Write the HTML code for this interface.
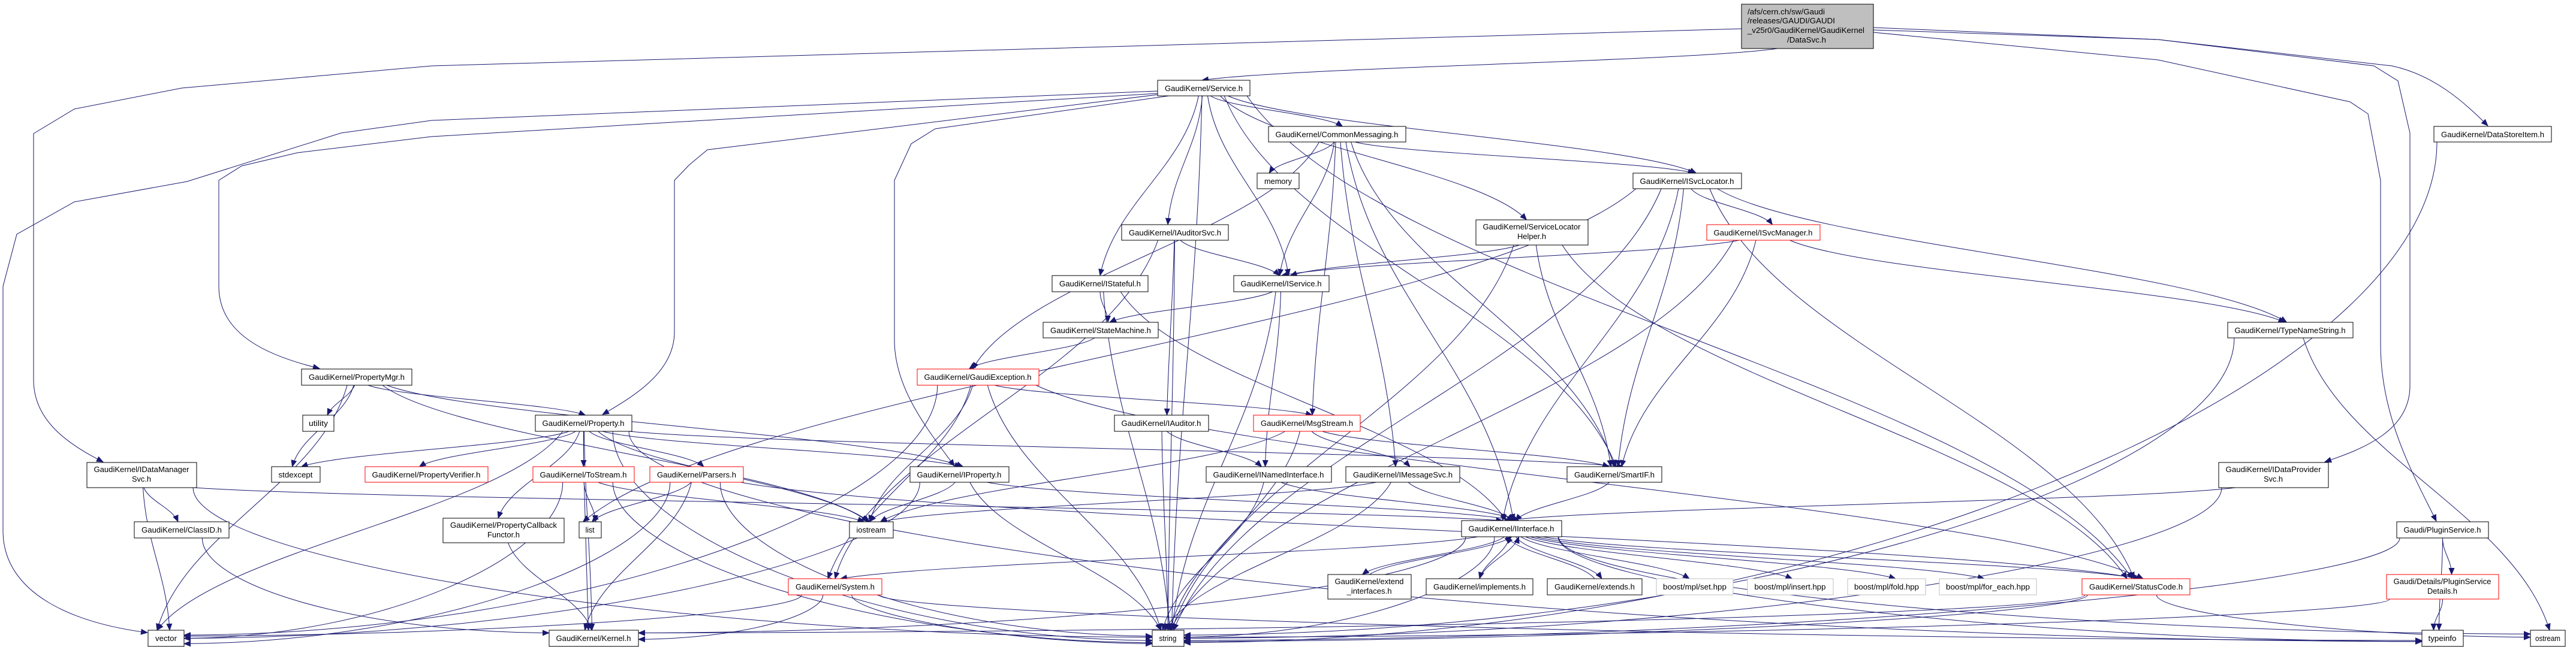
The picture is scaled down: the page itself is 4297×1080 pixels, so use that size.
<!DOCTYPE html>
<html><head><meta charset="utf-8"><style>
html,body{margin:0;padding:0;background:#fff;}
svg{display:block;}
text{font-family:"Liberation Sans",sans-serif;font-size:13px;fill:#000;}
.c{text-anchor:middle;}
rect{fill:#fff;stroke:#000;stroke-width:1;}
rect.r{stroke:#ff0000;}
rect.g{stroke:#bfbfbf;}
</style></head><body>
<svg width="4297" height="1080" viewBox="0 0 4297 1080" xmlns="http://www.w3.org/2000/svg">
<defs><marker id="a" markerUnits="userSpaceOnUse" markerWidth="12" markerHeight="10" refX="11" refY="5" orient="auto"><path d="M0,0 L12,5 L0,10 z" fill="#191970"/></marker></defs>
<g id="edges" fill="none" stroke="#191970" stroke-width="1">
<path marker-end="url(#a)" d="M2905,48 L720,110 L303,147 L124,182 L56,223 L56,634 C56,700 110,740 172,771"/>
<path marker-end="url(#a)" d="M1931,152 L720,201 L569,222 L312,303 L124,337 L28,391 L5,478 L5,886 C5,990 120,1040 246,1056"/>
<path marker-end="url(#a)" d="M1931,156 L720,228 L496,255 L403,277 L365,301 L365,478 C365,560 450,595 533,615"/>
<path marker-end="url(#a)" d="M1931,158 L1180,250 L1150,275 L1125,301 L1125,554 C1125,620 1060,660 1005,692"/>
<path marker-end="url(#a)" d="M1950,160 L1560,215 L1520,240 L1492,301 L1492,568 C1492,650 1550,720 1592,778"/>
<path marker-end="url(#a)" d="M3125,50 L3600,66 L3960,110 L4000,135 L4020,222 L4020,644 C4020,720 3940,750 3878,771"/>
<path marker-end="url(#a)" d="M3125,54 L3600,100 L3920,170 L3950,190 L3971,301 L3971,575 C3971,700 4030,800 4064,870"/>
<path marker-end="url(#a)" d="M3125,46 L3600,66 L3990,110 C4060,125 4110,170 4150,210"/>
</g>
<g id="nodes">
<rect x="2905" y="7" width="220" height="74" style="fill:#bfbfbf"/>
<text x="2915" y="24" textLength="129" lengthAdjust="spacingAndGlyphs">/afs/cern.ch/sw/Gaudi</text>
<text x="2915" y="39" textLength="146" lengthAdjust="spacingAndGlyphs">/releases/GAUDI/GAUDI</text>
<text x="2915" y="55" textLength="195" lengthAdjust="spacingAndGlyphs">_v25r0/GaudiKernel/GaudiKernel</text>
<text x="2981" y="71" textLength="65" lengthAdjust="spacingAndGlyphs">/DataSvc.h</text>

<rect x="1931" y="134" width="154" height="26"/><text class="c" x="2008" y="152" textLength="130" lengthAdjust="spacingAndGlyphs">GaudiKernel/Service.h</text>
<rect x="2116" y="211" width="229" height="26"/><text class="c" x="2230" y="229" textLength="205" lengthAdjust="spacingAndGlyphs">GaudiKernel/CommonMessaging.h</text>
<rect x="4060" y="211" width="196" height="26"/><text class="c" x="4158" y="229" textLength="172" lengthAdjust="spacingAndGlyphs">GaudiKernel/DataStoreItem.h</text>
<rect x="2097" y="289" width="70" height="26"/><text class="c" x="2132" y="307" textLength="46" lengthAdjust="spacingAndGlyphs">memory</text>
<rect x="2724" y="289" width="181" height="26"/><text class="c" x="2814" y="307" textLength="157" lengthAdjust="spacingAndGlyphs">GaudiKernel/ISvcLocator.h</text>
<rect x="2462" y="367" width="187" height="42"/><text class="c" x="2555" y="383" textLength="163" lengthAdjust="spacingAndGlyphs">GaudiKernel/ServiceLocator</text><text class="c" x="2555" y="399" textLength="48" lengthAdjust="spacingAndGlyphs">Helper.h</text>
<rect x="1871" y="375" width="178" height="26"/><text class="c" x="1960" y="393" textLength="154" lengthAdjust="spacingAndGlyphs">GaudiKernel/IAuditorSvc.h</text>
<rect class="r" x="2847" y="375" width="189" height="26"/><text class="c" x="2941" y="393" textLength="165" lengthAdjust="spacingAndGlyphs">GaudiKernel/ISvcManager.h</text>
<rect x="1755" y="460" width="160" height="27"/><text class="c" x="1835" y="478" textLength="136" lengthAdjust="spacingAndGlyphs">GaudiKernel/IStateful.h</text>
<rect x="2058" y="460" width="159" height="27"/><text class="c" x="2137" y="478" textLength="135" lengthAdjust="spacingAndGlyphs">GaudiKernel/IService.h</text>
<rect x="1740" y="538" width="192" height="26"/><text class="c" x="1836" y="556" textLength="168" lengthAdjust="spacingAndGlyphs">GaudiKernel/StateMachine.h</text>
<rect x="3716" y="538" width="209" height="26"/><text class="c" x="3820" y="556" textLength="185" lengthAdjust="spacingAndGlyphs">GaudiKernel/TypeNameString.h</text>
<rect x="503" y="616" width="184" height="27"/><text class="c" x="595" y="634" textLength="160" lengthAdjust="spacingAndGlyphs">GaudiKernel/PropertyMgr.h</text>
<rect class="r" x="1530" y="616" width="203" height="27"/><text class="c" x="1631" y="634" textLength="179" lengthAdjust="spacingAndGlyphs">GaudiKernel/GaudiException.h</text>
<rect x="505" y="693" width="52" height="27"/><text class="c" x="531" y="711" textLength="32" lengthAdjust="spacingAndGlyphs">utility</text>
<rect x="893" y="693" width="161" height="27"/><text class="c" x="973" y="711" textLength="137" lengthAdjust="spacingAndGlyphs">GaudiKernel/Property.h</text>
<rect x="1859" y="693" width="157" height="27"/><text class="c" x="1937" y="711" textLength="133" lengthAdjust="spacingAndGlyphs">GaudiKernel/IAuditor.h</text>
<rect class="r" x="2091" y="693" width="178" height="27"/><text class="c" x="2180" y="711" textLength="154" lengthAdjust="spacingAndGlyphs">GaudiKernel/MsgStream.h</text>
<rect x="145" y="772" width="183" height="42"/><text class="c" x="236" y="788" textLength="159" lengthAdjust="spacingAndGlyphs">GaudiKernel/IDataManager</text><text class="c" x="236" y="804" textLength="32" lengthAdjust="spacingAndGlyphs">Svc.h</text>
<rect x="453" y="779" width="81" height="26"/><text class="c" x="493" y="797" textLength="57" lengthAdjust="spacingAndGlyphs">stdexcept</text>
<rect class="r" x="609" y="779" width="205" height="26"/><text class="c" x="711" y="797" textLength="181" lengthAdjust="spacingAndGlyphs">GaudiKernel/PropertyVerifier.h</text>
<rect class="r" x="889" y="779" width="169" height="26"/><text class="c" x="973" y="797" textLength="145" lengthAdjust="spacingAndGlyphs">GaudiKernel/ToStream.h</text>
<rect class="r" x="1084" y="779" width="156" height="26"/><text class="c" x="1162" y="797" textLength="132" lengthAdjust="spacingAndGlyphs">GaudiKernel/Parsers.h</text>
<rect x="1518" y="779" width="165" height="26"/><text class="c" x="1600" y="797" textLength="141" lengthAdjust="spacingAndGlyphs">GaudiKernel/IProperty.h</text>
<rect x="2012" y="779" width="209" height="26"/><text class="c" x="2116" y="797" textLength="185" lengthAdjust="spacingAndGlyphs">GaudiKernel/INamedInterface.h</text>
<rect x="2245" y="779" width="190" height="26"/><text class="c" x="2340" y="797" textLength="166" lengthAdjust="spacingAndGlyphs">GaudiKernel/IMessageSvc.h</text>
<rect x="2614" y="779" width="158" height="26"/><text class="c" x="2693" y="797" textLength="134" lengthAdjust="spacingAndGlyphs">GaudiKernel/SmartIF.h</text>
<rect x="3701" y="772" width="183" height="42"/><text class="c" x="3792" y="788" textLength="159" lengthAdjust="spacingAndGlyphs">GaudiKernel/IDataProvider</text><text class="c" x="3792" y="804" textLength="32" lengthAdjust="spacingAndGlyphs">Svc.h</text>
<rect x="224" y="871" width="158" height="27"/><text class="c" x="303" y="889" textLength="134" lengthAdjust="spacingAndGlyphs">GaudiKernel/ClassID.h</text>
<rect x="739" y="865" width="202" height="41"/><text class="c" x="840" y="881" textLength="178" lengthAdjust="spacingAndGlyphs">GaudiKernel/PropertyCallback</text><text class="c" x="840" y="897" textLength="54" lengthAdjust="spacingAndGlyphs">Functor.h</text>
<rect x="966" y="871" width="37" height="27"/><text class="c" x="984" y="889" textLength="15" lengthAdjust="spacingAndGlyphs">list</text>
<rect x="1417" y="871" width="73" height="27"/><text class="c" x="1453" y="889" textLength="49" lengthAdjust="spacingAndGlyphs">iostream</text>
<rect x="2438" y="869" width="167" height="27"/><text class="c" x="2521" y="887" textLength="143" lengthAdjust="spacingAndGlyphs">GaudiKernel/IInterface.h</text>
<rect x="3998" y="871" width="153" height="27"/><text class="c" x="4074" y="889" textLength="129" lengthAdjust="spacingAndGlyphs">Gaudi/PluginService.h</text>
<rect x="2215" y="959" width="139" height="41"/><text class="c" x="2284" y="975" textLength="115" lengthAdjust="spacingAndGlyphs">GaudiKernel/extend</text><text class="c" x="2284" y="991" textLength="75" lengthAdjust="spacingAndGlyphs">_interfaces.h</text>
<rect class="r" x="3981" y="959" width="187" height="41"/><text class="c" x="4074" y="975" textLength="163" lengthAdjust="spacingAndGlyphs">Gaudi/Details/PluginService</text><text class="c" x="4074" y="991" textLength="50" lengthAdjust="spacingAndGlyphs">Details.h</text>
<rect class="r" x="1315" y="966" width="156" height="27"/><text class="c" x="1393" y="984" textLength="132" lengthAdjust="spacingAndGlyphs">GaudiKernel/System.h</text>
<rect x="2379" y="966" width="178" height="27"/><text class="c" x="2468" y="984" textLength="154" lengthAdjust="spacingAndGlyphs">GaudiKernel/implements.h</text>
<rect x="2581" y="966" width="158" height="27"/><text class="c" x="2660" y="984" textLength="134" lengthAdjust="spacingAndGlyphs">GaudiKernel/extends.h</text>
<rect class="g" x="2763" y="966" width="128" height="27"/><text class="c" x="2827" y="984" textLength="106" lengthAdjust="spacingAndGlyphs">boost/mpl/set.hpp</text>
<rect class="g" x="2915" y="966" width="143" height="27"/><text class="c" x="2986" y="984" textLength="119" lengthAdjust="spacingAndGlyphs">boost/mpl/insert.hpp</text>
<rect class="g" x="3082" y="966" width="130" height="27"/><text class="c" x="3147" y="984" textLength="108" lengthAdjust="spacingAndGlyphs">boost/mpl/fold.hpp</text>
<rect class="g" x="3235" y="966" width="162" height="27"/><text class="c" x="3316" y="984" textLength="140" lengthAdjust="spacingAndGlyphs">boost/mpl/for_each.hpp</text>
<rect class="r" x="3473" y="966" width="180" height="27"/><text class="c" x="3563" y="984" textLength="156" lengthAdjust="spacingAndGlyphs">GaudiKernel/StatusCode.h</text>
<rect x="247" y="1052" width="60" height="27"/><text class="c" x="277" y="1070" textLength="36" lengthAdjust="spacingAndGlyphs">vector</text>
<rect x="916" y="1052" width="149" height="27"/><text class="c" x="990" y="1070" textLength="125" lengthAdjust="spacingAndGlyphs">GaudiKernel/Kernel.h</text>
<rect x="1922" y="1052" width="53" height="27"/><text class="c" x="1948" y="1070" textLength="29" lengthAdjust="spacingAndGlyphs">string</text>
<rect x="4040" y="1052" width="69" height="27"/><text class="c" x="4074" y="1070" textLength="47" lengthAdjust="spacingAndGlyphs">typeinfo</text>
<rect x="4221" y="1052" width="58" height="27"/><text class="c" x="4250" y="1070" textLength="42" lengthAdjust="spacingAndGlyphs">ostream</text>
</g>
</svg>
<script>
var N={
root:[2905,3125,7,81],Service:[1931,2085,134,160],CM:[2116,2345,211,237],DSI:[4060,4256,211,237],
memory:[2097,2167,289,315],ISL:[2724,2905,289,315],SLH:[2462,2649,367,409],IAS:[1871,2049,375,401],
ISM:[2847,3036,375,401],IStateful:[1755,1915,460,487],IService:[2058,2217,460,487],SM:[1740,1932,538,564],
TNS:[3716,3925,538,564],PMgr:[503,687,616,643],GE:[1530,1733,616,643],utility:[505,557,693,720],
Prop:[893,1054,693,720],IAud:[1859,2016,693,720],MS:[2091,2269,693,720],IDM:[145,328,772,814],
stdexcept:[453,534,779,805],PV:[609,814,779,805],TS:[889,1058,779,805],Pars:[1084,1240,779,805],
IProp:[1518,1683,779,805],INI:[2012,2221,779,805],IMS:[2245,2435,779,805],SIF:[2614,2772,779,805],
IDP:[3701,3884,772,814],CID:[224,382,871,898],PCF:[739,941,865,906],list:[966,1003,871,898],
iostream:[1417,1490,871,898],II:[2438,2605,869,896],PS:[3998,4151,871,898],EI:[2215,2354,959,1000],
PSD:[3981,4168,959,1000],Sys:[1315,1471,966,993],impl:[2379,2557,966,993],ext:[2581,2739,966,993],
set:[2763,2891,966,993],ins:[2915,3058,966,993],fold:[3082,3212,966,993],fe:[3235,3397,966,993],
SC:[3473,3653,966,993],vector:[247,307,1052,1079],Kernel:[916,1065,1052,1079],string:[1922,1975,1052,1079],
typeinfo:[4040,4109,1052,1079],ostream:[4221,4279,1052,1079]};
var E=[
"root Service",
"Service CM","Service IAS","Service IStateful","Service IService","Service SLH","Service SIF","Service ISL","Service SC","Service string",
"CM memory","CM IService","CM MS","CM IMS","CM SIF","CM ISL","CM GE","CM II",
"ISL ISM","ISL TNS","ISL SIF","ISL II","ISL SC","ISL string","ISL list",
"ISM IService","ISM SIF","ISM TNS","ISM string",
"SLH IService","SLH SIF","SLH string","SLH SC",
"IAS IService","IAS IAud","IAS Sys","IAS string",
"IStateful SM","IStateful II","IStateful string",
"IService SM","IService INI","IService string",
"SM GE",
"GE iostream","GE MS","GE string","GE Sys","GE SC","GE vector",
"PMgr Prop","PMgr utility","PMgr stdexcept","PMgr IProp","PMgr vector","PMgr iostream",
"Prop stdexcept","Prop PV","Prop TS","Prop Pars","Prop PCF","Prop IProp","Prop SIF","Prop iostream","Prop string","Prop vector","Prop Kernel","Prop typeinfo",
"IAud INI","IAud string","MS IMS","MS SIF","MS string","MS iostream",
"IDM CID","IDM vector","IDM II","IDM string",
"TS list","TS iostream","TS vector","TS string","TS Kernel",
"Pars list","Pars vector","Pars string","Pars SC","Pars Kernel",
"IProp iostream","IProp II","IProp string","IProp vector",
"INI II","INI string","IMS II","IMS iostream","IMS string","SIF II",
"CID Kernel","PCF Kernel",
"II Sys","II EI","II impl","II ext","II set","II ins","II fold","II fe","II SC","II Kernel","II string","II typeinfo","II ostream",
"EI II","impl II","ext II",
"Sys Kernel","Sys string","Sys vector","Sys typeinfo",
"SC Kernel","SC ostream","SC string",
"IDP II","IDP string","DSI string","TNS string","TNS ostream",
"PS PSD","PS typeinfo","PS string","PSD typeinfo","PSD string"];
var bottom={vector:1,Kernel:1,string:1,typeinfo:1,ostream:1};
var g=document.getElementById("edges"),ns="http://www.w3.org/2000/svg",k=0;
E.forEach(function(e){var p=e.split(" "),s=N[p[0]],t=N[p[1]];k++;
var sx=(s[0]+s[1])/2,tx=(t[0]+t[1])/2,sy,ty,d;
var off=((k*37)%11-5)*3;
if(t[2]>s[3]){sy=s[3];ty=t[2];
  sx+=Math.max(-(s[1]-s[0])/2+5,Math.min((s[1]-s[0])/2-5,(tx-sx)*0.05));
  var dy=ty-sy,dx=tx-sx;
  if(bottom[p[1]]&&Math.abs(dx)>2.5*dy){
    var right=dx>0, ex=right?t[0]:t[1], ey=(t[2]+t[3])/2+off*0.6;
    var h=right?-1:1;
    d="M"+sx+","+sy+" C"+sx+","+(sy+dy*0.5)+" "+(ex+h*Math.abs(dx)*0.5)+","+(ey-2)+" "+ex+","+ey;
  } else {
    tx+=off;
    d="M"+sx+","+sy+" C"+(sx+dx*0.15)+","+(sy+dy*0.4)+" "+(tx-dx*0.15)+","+(ty-dy*0.4)+" "+tx+","+ty;
  }
}else if(t[3]<s[2]){sy=s[2];ty=t[3];tx+=off;
  var dx2=tx-sx,dy2=ty-sy;
  d="M"+sx+","+sy+" C"+(sx+dx2*0.15)+","+(sy+dy2*0.4)+" "+(tx-dx2*0.15)+","+(ty-dy2*0.4)+" "+tx+","+ty;
}else{sy=(s[2]+s[3])/2;ty=(t[2]+t[3])/2;var r=tx>sx;sx=r?s[1]:s[0];tx=r?t[0]:t[1];
  d="M"+sx+","+sy+" L"+tx+","+ty;}
var el=document.createElementNS(ns,"path");el.setAttribute("d",d);el.setAttribute("marker-end","url(#a)");g.appendChild(el);});
</script>
</body></html>
